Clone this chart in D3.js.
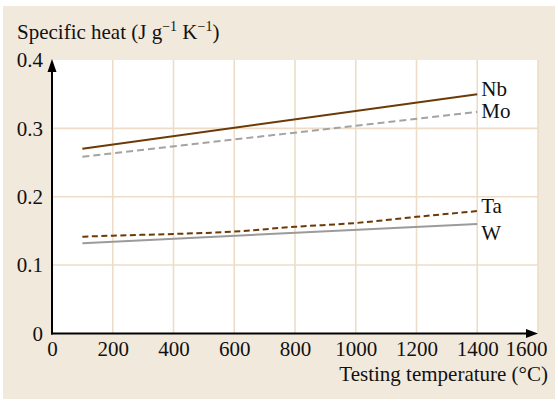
<!DOCTYPE html>
<html><head><meta charset="utf-8">
<script src="https://cdn.jsdelivr.net/npm/d3@7"></script>
<style>body{margin:0;background:#fff}svg{display:block}text{font-family:"Liberation Serif","Times New Roman",serif;fill:#111}</style>
</head><body><svg id="c" width="558" height="402"></svg>
<script>
const xTicks = [0,200,400,600,800,1000,1200,1400,1600];
const xTickLabels = ["0","200","400","600","800","1000","1200","1400","1600"];
const yTicks = [0,0.1,0.2,0.3,0.4];
const yTickLabels = ["0","0.1","0.2","0.3","0.4"];
const nbT = [100, 1400];
const nbV = [0.270, 0.350];
const moT = [100, 1400];
const moV = [0.2585, 0.324];
const taT = [100, 200, 400, 600, 800, 1000, 1200, 1400];
const taV = [0.1415, 0.143, 0.1455, 0.149, 0.156, 0.1615, 0.1705, 0.179];
const wT = [100, 1400];
const wV = [0.132, 0.160];
const seriesNames = ["Nb","Mo","Ta","W"];

const svg = d3.select("#c");
const x = d3.scaleLinear().domain([0,1600]).range([52,538]);
const y = d3.scaleLinear().domain([0,0.4]).range([333.4,60]);
const FS = 21;

svg.append("rect").attr("x",3).attr("y",6).attr("width",552).attr("height",393).attr("fill","#f2e9dd");
svg.append("rect").attr("x",x(0)).attr("y",y(0.4)).attr("width",x(1600)-x(0)).attr("height",y(0)-y(0.4)).attr("fill","#fff");

const grid = "#eddcc7";
svg.append("g").selectAll("line").data(xTicks.filter(d=>d>0)).join("line")
  .attr("x1",d=>x(d)).attr("x2",d=>x(d)).attr("y1",y(0)).attr("y2",y(0.4))
  .attr("stroke",grid).attr("stroke-width",1.6);
svg.append("g").selectAll("line").data(yTicks.filter(d=>d>0 && d<0.4)).join("line")
  .attr("x1",x(0)).attr("x2",x(1600)).attr("y1",d=>y(d)).attr("y2",d=>y(d))
  .attr("stroke",grid).attr("stroke-width",1.6);

// axes
const xAxis = d3.axisBottom(x).tickValues(xTicks).tickFormat((d,i)=>xTickLabels[i]).tickSize(0).tickPadding(8);
const gx = svg.append("g").attr("transform",`translate(0,${y(0)})`).call(xAxis);
gx.attr("font-family",null).attr("font-size",null);
gx.select(".domain").remove();
gx.selectAll("text").attr("font-size",FS).attr("fill","#111")
  .attr("text-anchor",d=>d===1600?"end":"middle").attr("dx",d=>d===1600?"9":"0");
const yAxis = d3.axisLeft(y).tickValues(yTicks).tickFormat((d,i)=>yTickLabels[i]).tickSize(0).tickPadding(9);
const gy = svg.append("g").attr("transform",`translate(${x(0)},0)`).call(yAxis);
gy.attr("font-family",null).attr("font-size",null);
gy.select(".domain").remove();
gy.selectAll("text").attr("font-size",FS).attr("fill","#111");

svg.append("line").attr("x1",x(0)).attr("x2",x(0)).attr("y1",y(0)+1).attr("y2",y(0.4)+8).attr("stroke","#000").attr("stroke-width",2);
svg.append("line").attr("x1",x(0)-1).attr("x2",x(1600)-8).attr("y1",y(0)).attr("y2",y(0)).attr("stroke","#000").attr("stroke-width",2);
svg.append("path").attr("d",`M${x(0)},${y(0.4)-1} L${x(0)-4.5},${y(0.4)+12} L${x(0)+4.5},${y(0.4)+12}Z`).attr("fill","#000");
svg.append("path").attr("d",`M${x(1600)},${y(0)} L${x(1600)-12},${y(0)-4.5} L${x(1600)-12},${y(0)+4.5}Z`).attr("fill","#000");

// series
const line = d3.line().x(d=>x(d[0])).y(d=>y(d[1])).curve(d3.curveMonotoneX);
const zip = (a,b)=>a.map((v,i)=>[v,b[i]]);
const series = [
  {name:seriesNames[0], pts:zip(nbT,nbV), color:"#6b3a07", dash:null, dy:2},
  {name:seriesNames[1], pts:zip(moT,moV), color:"#a3a3a3", dash:"7,4", dy:6},
  {name:seriesNames[2], pts:zip(taT,taV), color:"#6b3a07", dash:"6,3.5", dy:2},
  {name:seriesNames[3], pts:zip(wT,wV), color:"#9b9b9b", dash:null, dy:16}
];
series.forEach(s=>{
  svg.append("path").attr("d",line(s.pts)).attr("fill","none").attr("stroke",s.color)
    .attr("stroke-width",2).attr("stroke-dasharray",s.dash);
  const last = s.pts[s.pts.length-1];
  svg.append("text").attr("x",x(last[0])+4).attr("y",y(last[1])+s.dy).attr("font-size",FS).text(s.name);
});

// axis titles
const t = svg.append("text").attr("x",17).attr("y",39).attr("font-size",FS);
t.append("tspan").text("Specific heat (J g");
t.append("tspan").attr("dy",-8).attr("font-size",14).text("\u22121");
t.append("tspan").attr("dy",8).text(" K");
t.append("tspan").attr("dy",-8).attr("font-size",14).text("\u22121");
t.append("tspan").attr("dy",8).text(")");
svg.append("text").attr("x",548).attr("y",381).attr("text-anchor","end").attr("font-size",FS).text("Testing temperature (\u00b0C)");
</script></body></html>
